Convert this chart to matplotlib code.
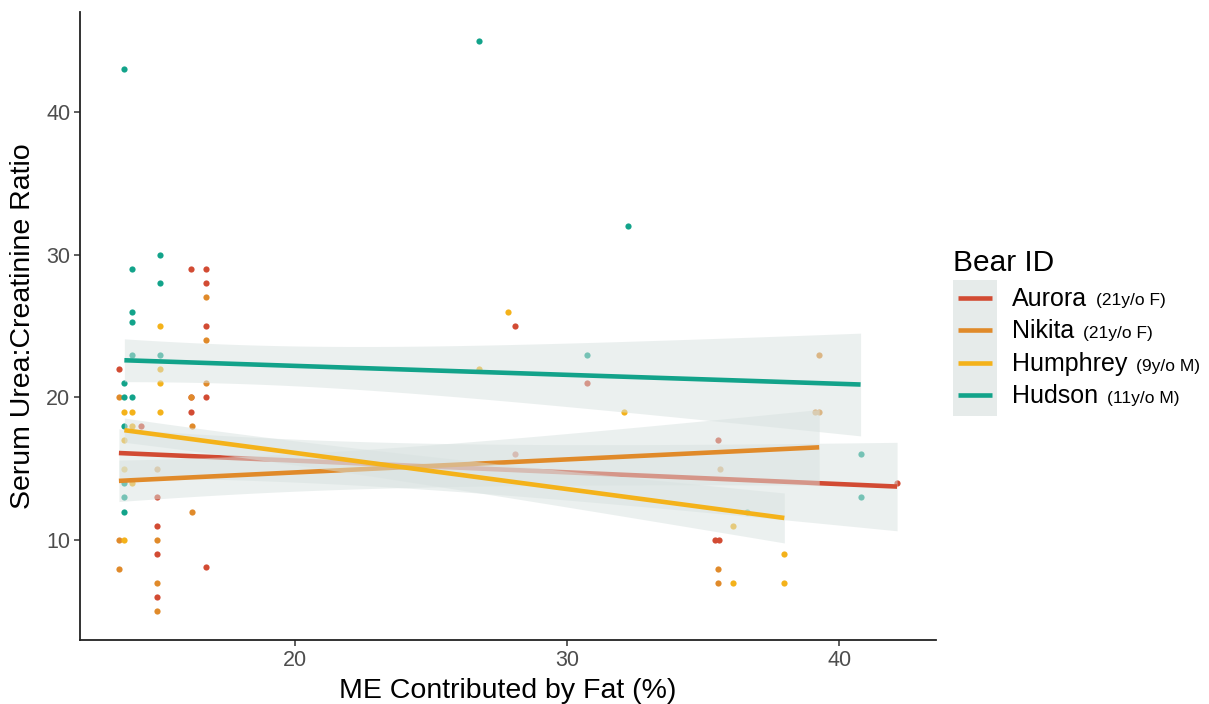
import matplotlib
matplotlib.use("Agg")
import matplotlib.pyplot as plt
import numpy as np
from matplotlib.lines import Line2D
from matplotlib.patches import Rectangle

plt.rcParams['font.family'] = ['Liberation Sans', 'DejaVu Sans']

# ---- data -------------------------------------------------------------
bears = ["Aurora", "Nikita", "Humphrey", "Hudson"]
bear_notes = ["(21y/o F)", "(21y/o F)", "(9y/o M)", "(11y/o M)"]
bear_colors = ["#D24B33", "#E08A2A", "#F4B21A", "#12A38A"]

aurora_fat = [13.55, 14.37, 14.95, 14.95, 14.95, 14.95, 16.18, 16.18, 16.18,
              16.74, 16.74, 16.74, 16.74, 16.74, 28.1, 28.1, 30.73,
              35.55, 35.42, 35.59, 42.12]
aurora_ratio = [22, 18, 13, 11, 9, 6, 29, 20, 19,
                29, 28, 25, 20, 8.1, 25, 16, 21,
                17, 10, 10, 14]

nikita_fat = [13.55, 13.55, 13.55, 14.95, 14.95, 14.95, 14.95, 16.18, 16.23,
              16.23, 16.74, 16.74, 16.74, 35.55, 35.55, 35.6, 39.11, 39.26, 39.26]
nikita_ratio = [20, 10, 8, 15, 10, 7, 5, 20, 18,
                12, 27, 24, 21, 8, 7, 15, 19, 19, 23]

humphrey_fat = [13.75, 13.75, 13.75, 13.75, 14.03, 14.03, 14.03, 15.07, 15.07,
                15.07, 15.07, 26.78, 27.85, 32.11, 36.08, 36.08, 37.98, 37.98]
humphrey_ratio = [19, 17, 15, 10, 19, 18, 14, 25, 22,
                  21, 19, 22, 26, 19, 11, 7, 9, 7]

hudson_fat = [13.75, 13.75, 13.75, 13.75, 13.75, 13.75, 13.75,
              14.03, 14.03, 14.03, 14.03, 14.03,
              15.07, 15.07, 15.07,
              26.78, 30.73, 32.23, 36.6, 40.78, 40.78]
hudson_ratio = [43, 21, 20, 18, 14, 13, 12,
                29, 26, 25.3, 23, 20,
                30, 28, 23,
                45, 23, 32, 12, 16, 13]

# linear trend per bear: fitted value at the lowest / highest fat share,
# and half-width of the 95% confidence band at both ends
trend_start = [16.1, 14.15, 17.7, 22.6]
trend_end = [13.75, 16.5, 11.55, 20.9]
band_start = [1.7, 1.45, 0.85, 1.5]
band_end = [3.1, 2.65, 1.75, 3.6]
band_narrowest = [20, 19, 17, 18]

x_ticks = [20, 30, 40]
y_ticks = [10, 20, 30, 40]

fat = [aurora_fat, nikita_fat, humphrey_fat, hudson_fat]
ratio = [aurora_ratio, nikita_ratio, humphrey_ratio, hudson_ratio]

# ---- figure -----------------------------------------------------------
W, H = 1209, 704
fig = plt.figure(figsize=(W / 100, H / 100), dpi=100)
fig.patch.set_facecolor("white")


def fpx(x, y):
    return x / W, 1 - y / H


ax = fig.add_axes([80 / W, 64 / H, (936 - 80) / W, (640 - 12) / H])

all_x = np.concatenate([np.asarray(v, float) for v in fat])
all_y = np.concatenate([np.asarray(v, float) for v in ratio])
xr = all_x.max() - all_x.min()
yr = all_y.max() - all_y.min()
ax.set_xlim(all_x.min() - 0.05 * xr, all_x.max() + 0.05 * xr)
ax.set_ylim(all_y.min() - 0.05 * yr, all_y.max() + 0.05 * yr)

# raw observations
for i, name in enumerate(bears):
    ax.scatter(fat[i], ratio[i], s=20, color=bear_colors[i], linewidths=0,
               zorder=2)

# trend lines with confidence bands, drawn bear by bear
band_fill = "#D8E2E0"
for i, name in enumerate(bears):
    x0, x1 = min(fat[i]), max(fat[i])
    xs = np.linspace(x0, x1, 200)
    slope = (trend_end[i] - trend_start[i]) / (x1 - x0)
    ys = trend_start[i] + slope * (xs - x0)
    xm = band_narrowest[i]
    d0, d1 = (x0 - xm) ** 2, (x1 - xm) ** 2
    b = (band_end[i] ** 2 - band_start[i] ** 2) / (d1 - d0)
    a = band_start[i] ** 2 - b * d0
    hw = np.sqrt(np.maximum(a + b * (xs - xm) ** 2, 0.01))
    ax.fill_between(xs, ys - hw, ys + hw, color=band_fill, alpha=0.5,
                    linewidth=0, zorder=3 + 2 * i)
    ax.plot(xs, ys, color=bear_colors[i], lw=3.3, solid_capstyle="butt",
            zorder=4 + 2 * i)

# axes styling (classic look)
for side in ["top", "right"]:
    ax.spines[side].set_visible(False)
for side in ["left", "bottom"]:
    ax.spines[side].set_linewidth(1.3)
    ax.spines[side].set_color("#222222")
ax.set_xticks(x_ticks)
ax.set_yticks(y_ticks)
ax.tick_params(axis="both", length=4, width=1.1, color="#333333",
               labelcolor="#4D4D4D", labelsize=15.5, pad=3)
ax.set_xlabel("ME Contributed by Fat (%)", fontsize=20.5, color="black",
              labelpad=5)
ax.set_ylabel("Serum Urea:Creatinine Ratio", fontsize=20.5, color="black",
              labelpad=7)

# ---- legend -----------------------------------------------------------
fig.text(*fpx(953, 271), "Bear ID", fontsize=21.5, va="baseline", ha="left")
kx0, ky0 = fpx(953, 416)
kx1, ky1 = fpx(997, 280)
fig.patches.append(Rectangle((kx0, ky0), kx1 - kx0, ky1 - ky0,
                             transform=fig.transFigure, facecolor="#E6EBEA",
                             edgecolor="none", zorder=1))
key_rows = [297.5, 330, 362.5, 395]
name_texts = []
for i, name in enumerate(bears):
    yk = key_rows[i]
    lx0, ly = fpx(958, yk)
    lx1, _ = fpx(992, yk)
    fig.lines.append(Line2D([lx0, lx1], [ly, ly], transform=fig.transFigure,
                            color=bear_colors[i], lw=3.3,
                            solid_capstyle="butt", zorder=2))
    t = fig.text(*fpx(1012, yk + 8), name, fontsize=18, va="baseline",
                 ha="left")
    name_texts.append(t)

fig.canvas.draw()
renderer = fig.canvas.get_renderer()
for i, t in enumerate(name_texts):
    ext = t.get_window_extent(renderer)
    x_end = ext.x1 + 9
    fig.text(x_end / W, t.get_position()[1], bear_notes[i], fontsize=12.5,
             va="baseline", ha="left")

fig.savefig("out.png", dpi=100, facecolor="white")
